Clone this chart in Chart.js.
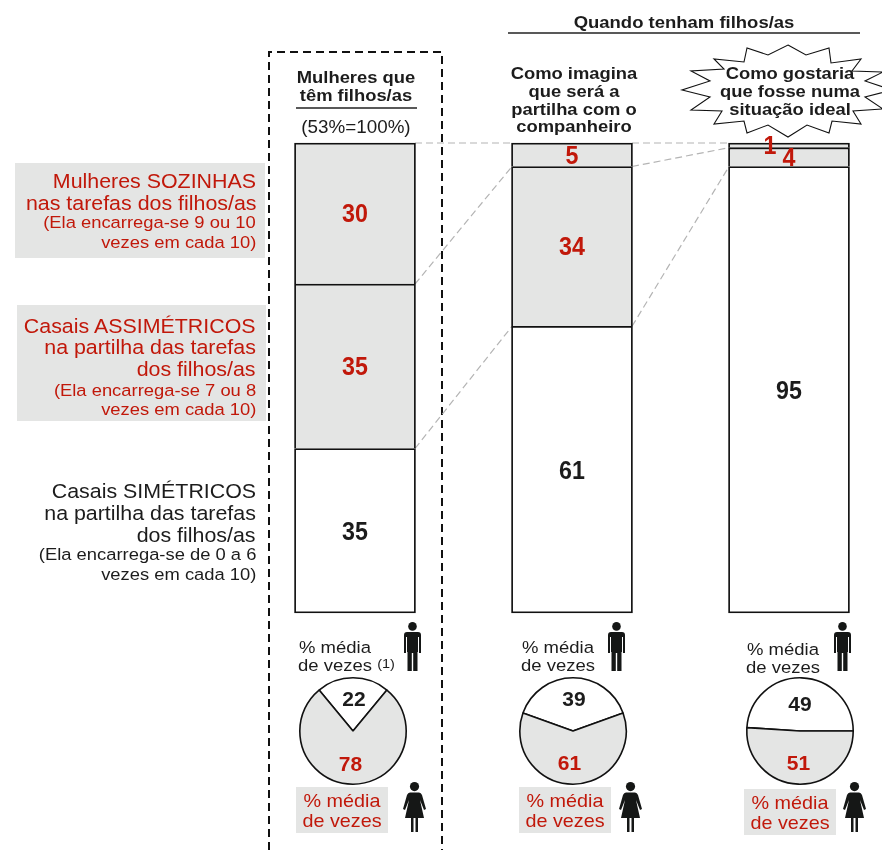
<!DOCTYPE html>
<html>
<head>
<meta charset="utf-8">
<title>Partilha das tarefas dos filhos/as</title>
<script src="https://cdn.jsdelivr.net/npm/chart.js@4"></script>
<style>
  html, body { margin: 0; padding: 0; background: #fff; overflow: hidden; }
  body { position: relative; width: 882px; height: 850px; font-family: "Liberation Sans", Arial, sans-serif; }
  #main { position: absolute; left: 0; top: 0; width: 882px; height: 850px; }
  .pie { position: absolute; width: 112px; height: 112px; }
  .t { position: absolute; white-space: nowrap; line-height: 20px; height: 20px; }
  .box { position: absolute; background: #e4e5e4; }
  svg { position: absolute; left: 0; top: 0; }
</style>
</head>
<body>
<div class="box" style="left:15px;top:163px;width:250px;height:95px"></div>
<div class="box" style="left:17px;top:305px;width:249px;height:116px"></div>
<div class="box" style="left:296px;top:787px;width:92px;height:46px"></div>
<div class="box" style="left:519px;top:787px;width:92px;height:46px"></div>
<div class="box" style="left:744px;top:789px;width:92px;height:46px"></div>

<svg width="882" height="850">
  <path d="M269 850V52H442V850" fill="none" stroke="#111" stroke-width="2" stroke-dasharray="8 5"/>
  <line x1="508" y1="33" x2="860" y2="33" stroke="#222" stroke-width="1.6"/>
  <line x1="296" y1="108" x2="417" y2="108" stroke="#222" stroke-width="1.4"/>
  <polygon fill="#fff" stroke="#111" stroke-width="1.1" points="788,45 806,55 829,48 831,63 861,59 852,71 883,72 865,81 892,90 865,97 883,109 853,111 861,124 832,121 829,133 807,125 788,137 768,125 747,133 744,121 714,124 722,111 691,110 710,97 682,90 710,81 691,71 724,69 714,59 744,62 747,48 768,55"/>
  <defs>
    <g id="man">
      <circle cx="8.5" cy="4.4" r="4.3"/>
      <path d="M3 10H14Q17 10 17 13V31H15V15H14V30H13.5V49H9.2V31H7.8V49H3.5V30H3V15H2V31H0V13Q0 10 3 10Z"/>
    </g>
    <g id="woman">
      <circle cx="11.5" cy="4.6" r="4.6"/>
      <path d="M7 10.5H16Q18 10.5 19 13L23 27L21 28L17 18L21 36H15V50H12.5V36H10.5V50H8V36H2L6 18L2 28L0 27L4 13Q5 10.5 7 10.5Z"/>
    </g>
  </defs>
  <g fill="#151716">
    <use href="#man" x="404" y="622"/>
    <use href="#man" x="608" y="622"/>
    <use href="#man" x="834" y="622"/>
    <use href="#woman" x="403" y="782"/>
    <use href="#woman" x="619" y="782"/>
    <use href="#woman" x="843" y="782"/>
  </g>
</svg>

<canvas id="main" width="882" height="850"></canvas>
<div class="pie" style="left:297px;top:675px"><canvas id="pie0"></canvas></div>
<div class="pie" style="left:517px;top:675px"><canvas id="pie1"></canvas></div>
<div class="pie" style="left:744px;top:675px"><canvas id="pie2"></canvas></div>
<div id="labels"></div>

<script>
const categories = ["Mulheres que têm filhos/as", "Como imagina que será a partilha com o companheiro", "Como gostaria que fosse numa situação ideal"];
const sozinhas = [30, 5, 1];
const assimetricos = [35, 34, 4];
const simetricos = [35, 61, 95];

const homens = [22, 39, 49];
const mulheres = [78, 61, 51];
const pieStart = [-39.6, -70.2, -86.4];

const RED = "#c1180a";
const INK = "#1c1c1c";
const GREY = "#e4e5e4";
const LINE = "#111";
const STRETCH = 1.075; // the original type is a bit wider than Arial

// dashed links between bars + numbers on the segments
const barExtras = {
  id: "barExtras",
  beforeDatasetsDraw(chart) {
    const ctx = chart.ctx;
    const xs = chart.scales.x, ys = chart.scales.y;
    ctx.save();
    ctx.strokeStyle = "#b4b4b4";
    ctx.lineWidth = 1.2;
    ctx.setLineDash([7, 4]);
    for (let i = 0; i < categories.length - 1; i++) {
      const x1 = xs.getPixelForValue(i) + 60;
      const x2 = xs.getPixelForValue(i + 1) - 60;
      [100, simetricos[i] + assimetricos[i], simetricos[i]].forEach((v, k) => {
        const v2 = [100, simetricos[i + 1] + assimetricos[i + 1], simetricos[i + 1]][k];
        ctx.beginPath();
        ctx.moveTo(x1, ys.getPixelForValue(v));
        ctx.lineTo(x2, ys.getPixelForValue(v2));
        ctx.stroke();
      });
    }
    ctx.restore();
  },
  afterDatasetsDraw(chart) {
    const ctx = chart.ctx;
    ctx.font = 'bold 25px "Liberation Sans"';
    ctx.textAlign = "center";
    ctx.textBaseline = "middle";
    chart.data.datasets.forEach((ds, d) => {
      chart.getDatasetMeta(d).data.forEach((bar, i) => {
        ctx.save();
        ctx.fillStyle = d === 0 ? INK : RED;
        const dx = (d === 2 && i === 2) ? -19 : 0;
        ctx.translate(bar.x + dx, (bar.y + bar.base) / 2 + 2);
        ctx.scale(0.93, 1);
        ctx.fillText(ds.data[i], 0, 0);
        ctx.restore();
      });
    });
  }
};

const BW = 1.8;
new Chart(document.getElementById("main"), {
  type: "bar",
  data: {
    labels: categories,
    datasets: [
      { label: "Casais SIMÉTRICOS", data: simetricos, backgroundColor: "#fff",
        borderWidth: { top: BW, left: BW, right: BW, bottom: BW } },
      { label: "Casais ASSIMÉTRICOS", data: assimetricos, backgroundColor: GREY,
        borderWidth: { top: BW, left: BW, right: BW, bottom: 0 } },
      { label: "Mulheres SOZINHAS", data: sozinhas, backgroundColor: GREY,
        borderWidth: { top: BW, left: BW, right: BW, bottom: 0 } }
    ].map(d => Object.assign(d, { borderColor: LINE, borderSkipped: false, barThickness: 121, clip: false, stack: "a" }))
  },
  options: {
    responsive: false,
    animation: false,
    layout: { padding: { left: 355, right: 93, top: 143, bottom: 237 } },
    plugins: { legend: { display: false }, tooltip: { enabled: false } },
    scales: {
      x: { display: false, stacked: true, offset: false },
      y: { display: false, stacked: true, min: 0, max: 100 }
    }
  },
  plugins: [barExtras]
});

homens.forEach((h, i) => {
  new Chart(document.getElementById("pie" + i), {
    type: "pie",
    data: {
      labels: ["Homens", "Mulheres"],
      datasets: [{ data: [h, mulheres[i]], backgroundColor: ["#fff", GREY], borderColor: LINE, borderWidth: 1.6 }]
    },
    options: {
      responsive: true,
      maintainAspectRatio: false,
      animation: false,
      rotation: pieStart[i],
      layout: { padding: 2 },
      plugins: { legend: { display: false }, tooltip: { enabled: false } }
    }
  });
});

// text: [string, x, y, align, size, bold, colour]
const texts = [
  ["Quando tenham filhos/as", 684, 22, "c", 17.2, 1, INK],
  ["Mulheres que", 356, 78, "c", 17.1, 1, INK],
  ["têm filhos/as", 356, 96, "c", 17.1, 1, INK],
  ["(53%=100%)", 356, 127, "c", 17.5, 0, INK],
  ["Como imagina", 574, 74, "c", 17.1, 1, INK],
  ["que será a", 574, 92, "c", 17.1, 1, INK],
  ["partilha com o", 574, 110, "c", 17.1, 1, INK],
  ["companheiro", 574, 127, "c", 17.1, 1, INK],
  ["Como gostaria", 790, 74, "c", 17.1, 1, INK],
  ["que fosse numa", 790, 92, "c", 17.1, 1, INK],
  ["situação ideal", 790, 110, "c", 17.1, 1, INK],

  ["Mulheres SOZINHAS", 256, 181, "r", 19.9, 0, RED],
  ["nas tarefas dos filhos/as", 256, 203, "r", 19.9, 0, RED],
  ["(Ela encarrega-se 9 ou 10", 256, 223, "r", 17.1, 0, RED],
  ["vezes em cada 10)", 256, 243, "r", 17.1, 0, RED],

  ["Casais ASSIMÉTRICOS", 256, 326, "r", 19.9, 0, RED],
  ["na partilha das tarefas", 256, 347, "r", 19.9, 0, RED],
  ["dos filhos/as", 256, 369, "r", 19.9, 0, RED],
  ["(Ela encarrega-se 7 ou 8", 256, 391, "r", 17.1, 0, RED],
  ["vezes em cada 10)", 256, 410, "r", 17.1, 0, RED],

  ["Casais SIMÉTRICOS", 256, 491, "r", 19.9, 0, INK],
  ["na partilha das tarefas", 256, 513, "r", 19.9, 0, INK],
  ["dos filhos/as", 256, 535, "r", 19.9, 0, INK],
  ["(Ela encarrega-se de 0 a 6", 256, 555, "r", 17.1, 0, INK],
  ["vezes em cada 10)", 256, 575, "r", 17.1, 0, INK],

  ["% média", 335, 647, "c", 17.2, 0, INK],
  ["de vezes", 335, 665, "c", 17.2, 0, INK],
  ["(1)", 386, 664, "c", 13.5, 0, INK],
  ["% média", 558, 647, "c", 17.2, 0, INK],
  ["de vezes", 558, 665, "c", 17.2, 0, INK],
  ["% média", 783, 649, "c", 17.2, 0, INK],
  ["de vezes", 783, 667, "c", 17.2, 0, INK],

  ["% média", 342, 801, "c", 18.4, 0, RED],
  ["de vezes", 342, 821, "c", 18.4, 0, RED],
  ["% média", 565, 801, "c", 18.4, 0, RED],
  ["de vezes", 565, 821, "c", 18.4, 0, RED],
  ["% média", 790, 803, "c", 18.4, 0, RED],
  ["de vezes", 790, 823, "c", 18.4, 0, RED],

  [homens[0], 354, 699, "c", 21, 1, INK],
  [mulheres[0], 350.5, 764, "c", 21, 1, RED],
  [homens[1], 574, 699, "c", 21, 1, INK],
  [mulheres[1], 569.5, 763, "c", 21, 1, RED],
  [homens[2], 800, 704, "c", 21, 1, INK],
  [mulheres[2], 798.5, 763, "c", 21, 1, RED]
];

const holder = document.getElementById("labels");
texts.forEach(([s, x, y, a, size, b, col]) => {
  const el = document.createElement("div");
  const sx = typeof s === "number" ? 1 : STRETCH;
  el.className = "t";
  el.textContent = s;
  el.style.top = (y - 10) + "px";
  el.style.fontSize = size + "px";
  el.style.fontWeight = b ? "bold" : "normal";
  el.style.color = col;
  if (a === "r") {
    el.style.right = (882 - x) + "px";
    el.style.transformOrigin = "right center";
    el.style.transform = "scaleX(" + sx + ")";
  } else {
    el.style.left = x + "px";
    el.style.transform = "translateX(-50%) scaleX(" + sx + ")";
  }
  holder.appendChild(el);
});
</script>
</body>
</html>
